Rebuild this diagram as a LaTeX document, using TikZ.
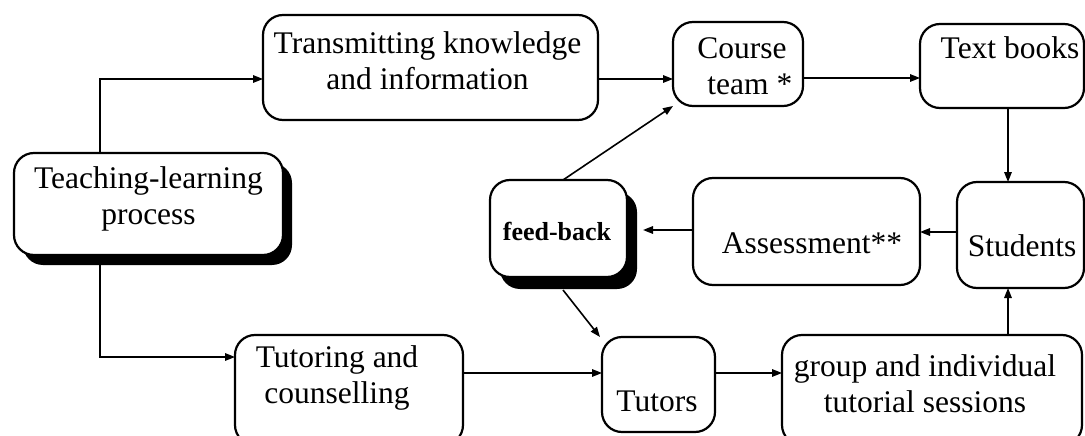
\documentclass[tikz,border=0pt]{standalone}
\usepackage{fontspec}
\setmainfont{Liberation Serif}
\usetikzlibrary{arrows.meta,shadows}

% text block centred on the node, moved by (#1 right, #2 up)
\newcommand\boxtext[3]{\raisebox{#2}[0pt][0pt]{\makebox[0pt]{\kern#1\begin{tabular}{@{}c@{}}#3\end{tabular}\kern-#1}}}
\newcommand\mainsize{\fontsize{31.5}{36}\selectfont}
\newcommand\feedsize{\fontsize{26}{30}\selectfont\bfseries}

\tikzset{
  stagebox/.style={draw, line width=2.2pt, rounded corners=20pt, fill=white,
    inner sep=0pt, outer sep=0pt, font=\mainsize},
  heavyshadow/.style 2 args={drop shadow={shadow xshift=#1, shadow yshift=-#2,
    fill=black, opacity=1}},
  link/.style={line width=1.6pt, -{Triangle[length=10pt,width=7.5pt]}},
}

\begin{document}
\begin{tikzpicture}[x=1pt,y=-1pt]
\useasboundingbox (0,0) rectangle (1085,436);
\clip (0,0) rectangle (1085,436);

% boxes
\node[stagebox, heavyshadow={9pt}{10pt}, minimum width=269pt, minimum height=102pt]
  (teach) at (148.5,204) {\boxtext{0pt}{-2pt}{Teaching-learning\\process}};
\node[stagebox, minimum width=335pt, minimum height=105pt]
  (trans) at (430.5,67.5) {\boxtext{-3pt}{-3.5pt}{Transmitting knowledge\\and information}};
\node[stagebox, minimum width=130pt, minimum height=84pt]
  (course) at (738,64) {\boxtext{4pt}{-11.5pt}{Course\\\ \ team *}};
\node[stagebox, minimum width=164pt, minimum height=84pt]
  (books) at (1002,66) {\boxtext{8pt}{8.5pt}{Text books}};
\node[stagebox, minimum width=127pt, minimum height=106pt]
  (stud) at (1020.5,235) {\boxtext{1.5pt}{-20.5pt}{Students}};
\node[stagebox, minimum width=227pt, minimum height=107pt]
  (assess) at (806.5,231.5) {\boxtext{5.5pt}{-21pt}{Assessment**}};
\node[stagebox, heavyshadow={10pt}{12pt}, minimum width=137pt, minimum height=97pt]
  (feed) at (558.5,228.5) {\feedsize\boxtext{-1.5pt}{-12pt}{feed-back}};
\node[stagebox, minimum width=113pt, minimum height=95pt]
  (tutors) at (658.5,384.5) {\boxtext{-1.5pt}{-26pt}{Tutors}};
\node[stagebox, minimum width=300pt, minimum height=110pt]
  (group) at (932,390) {\boxtext{-7pt}{-3.5pt}{group and individual\\tutorial sessions}};
\node[stagebox, minimum width=228pt, minimum height=110pt]
  (tut) at (349,390) {\boxtext{-12pt}{5pt}{Tutoring and\\counselling}};

% connectors
\draw[link] ([xshift=-48.5pt]teach.north) |- ([yshift=-11.5pt]trans.west);
\draw[link] ([xshift=-48.5pt]teach.south) |- ([yshift=33pt]tut.west);
\draw[link] ([yshift=-11.5pt]trans.east) -- ([yshift=-11.5pt]trans.east -| course.west);
\draw[link] ([yshift=-14pt]course.east) -- ([yshift=-14pt]course.east -| books.west);
\draw[link] ([xshift=6pt]books.south) -- ([xshift=6pt]books.south |- stud.north);
\draw[link] ([yshift=3pt]stud.west) -- ([yshift=3pt]stud.west -| assess.east);
\draw[link] ([yshift=1.5pt]assess.west) -- ([xshift=16pt,yshift=1.5pt]assess.west -| feed.east);
\draw[link] ([xshift=4.5pt]feed.north) -- (course.south west);
\draw[link] ([xshift=4.5pt,yshift=-13pt]feed.south) -- ([xshift=-2pt]tutors.north west);
\draw[link] ([yshift=17pt]tut.east) -- ([yshift=17pt]tut.east -| tutors.west);
\draw[link] ([yshift=11.5pt]tutors.east) -- ([yshift=11.5pt]tutors.east -| group.west);
\draw[link] ([xshift=76pt]group.north) -- ([xshift=76pt]group.north |- stud.south);
\end{tikzpicture}
\end{document}
